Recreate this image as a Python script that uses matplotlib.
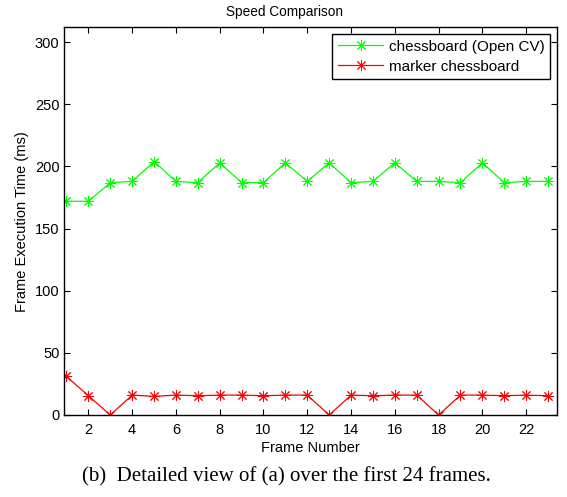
import matplotlib
matplotlib.use("Agg")
import matplotlib.pyplot as plt

# frame numbers and per-frame times (ms)
frames = list(range(1, 24))
opencv_ms = [172, 172, 187, 188, 204, 188, 187, 203, 187, 187, 203, 188,
             203, 187, 188, 203, 188, 188, 187, 203, 187, 188, 188]
marker_ms = [31, 15.5, 0, 16, 15, 16, 15.5, 16, 16, 15.5, 16, 16,
             0, 16, 15.5, 16, 16, 0, 16, 16, 15.5, 16, 15.5]
x_ticks = list(range(2, 23, 2))
y_ticks = list(range(0, 301, 50))

plt.rcParams['font.family'] = ['Liberation Sans', 'DejaVu Sans']

fig = plt.figure(figsize=(5.67, 4.97), dpi=100)
ax = fig.add_axes([0.1134, 0.165, 0.8686, 0.780])

# matlab-style asterisk marker
ast = (8, 2, 0)
ax.plot(frames, opencv_ms, color=(0, 1, 0), marker=ast, markersize=8,
        markeredgewidth=0.7, linewidth=0.9, label='chessboard (Open CV)')
ax.plot(frames, marker_ms, color=(1, 0, 0), marker=ast, markersize=8,
        markeredgewidth=0.7, linewidth=0.9, label='marker chessboard')

ax.set_xlim(0.9, 23.4)
ax.set_ylim(0, 312)
ax.set_xticks(x_ticks)
ax.set_yticks(y_ticks)
ax.tick_params(direction='in', top=True, right=True, labelsize=10.5,
               length=4)
ax.tick_params(axis='x', pad=6)
for s in ax.spines.values():
    s.set_linewidth(1.0)

# title sits over the figure centre, not the axes centre
ax.set_title('Speed Comparison', fontsize=9.8, pad=8, x=0.448)
ax.set_xlabel('Frame Number', fontsize=10.5, labelpad=3)
ax.set_ylabel('Frame Execution Time (ms)', fontsize=10.5, labelpad=4)

leg = ax.legend(loc='upper right', fontsize=11, fancybox=False,
                edgecolor='black', framealpha=1, handlelength=3.0,
                handletextpad=0.35, borderaxespad=0.45, borderpad=0.35,
                labelspacing=0.4)
leg.get_frame().set_linewidth(1.0)

fig.text(0.506, 0.04, '(b)  Detailed view of (a) over the first 24 frames.',
         ha='center', va='center', fontsize=15,
         family=['Liberation Serif', 'DejaVu Serif'])

fig.savefig('out.png', dpi=100)
